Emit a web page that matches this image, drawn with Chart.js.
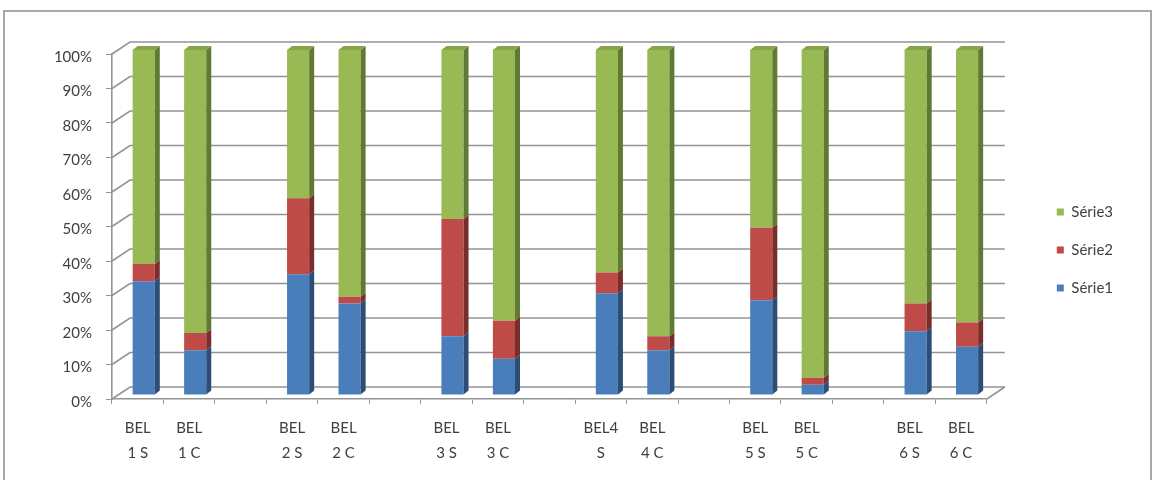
<!DOCTYPE html>
<html>
<head>
<meta charset="utf-8">
<script src="https://cdn.jsdelivr.net/npm/chart.js@4/dist/chart.umd.min.js"></script>
<style>
    body { margin: 0; background: #fff; }
    #wrap { position: relative; width: 1156px; height: 480px; overflow: hidden; }
    #frame {
        position: absolute; left: 3px; top: 10px; width: 1149px; height: 480px;
        border: 2px solid #a8a8a8; border-bottom: none; box-sizing: border-box;
    }
    canvas { position: absolute; left: 0; top: 0; }
</style>
</head>
<body>
<div id="wrap">
    <div id="frame"></div>
    <canvas id="myChart" width="1156" height="480"></canvas>
</div>
<script>
// empty slots keep the pairs apart
const labels = [
    ['BEL', '1 S'], ['BEL', '1 C'], '',
    ['BEL', '2 S'], ['BEL', '2 C'], '',
    ['BEL', '3 S'], ['BEL', '3 C'], '',
    ['BEL4', 'S'], ['BEL', '4 C'], '',
    ['BEL', '5 S'], ['BEL', '5 C'], '',
    ['BEL', '6 S'], ['BEL', '6 C'],
];

const serie1 = [33, 13, null, 35, 26.5, null, 17, 10.5, null, 29.5, 13, null, 27.5, 3, null, 18.5, 14];
const serie2 = [5, 5, null, 22, 2, null, 34, 11, null, 6, 4, null, 21, 2, null, 8, 7];
const serie3 = [62, 82, null, 43, 71.5, null, 49, 78.5, null, 64.5, 83, null, 51.5, 95, null, 73.5, 79];

const yTicks = [0, 10, 20, 30, 40, 50, 60, 70, 80, 90, 100];

const gridColor = '#949494';
const textColor = '#404040';
const fontFamily = 'Lato, "Open Sans", sans-serif';

// back wall offset and bar depth
const WALL_X = 18, WALL_Y = -12;
const BAR_X = 6, BAR_Y = -4;
const SIDE_X = 5, SIDE_Y = -4;

// grid lines on the back wall, left wall edges, right floor edge
const wallGrid = {
    id: 'wallGrid',
    beforeDatasetsDraw(chart) {
        const ctx = chart.ctx;
        const a = chart.chartArea;
        const y = chart.scales.y;
        ctx.save();
        ctx.strokeStyle = gridColor;
        ctx.lineWidth = 1.6;
        yTicks.forEach(v => {
            const py = y.getPixelForValue(v);
            ctx.beginPath();
            ctx.moveTo(a.left, py);
            ctx.lineTo(a.left + WALL_X, py + WALL_Y);
            ctx.lineTo(a.right + WALL_X, py + WALL_Y);
            ctx.stroke();
        });
        ctx.beginPath();
        ctx.moveTo(a.right, a.bottom);
        ctx.lineTo(a.right + WALL_X, a.bottom + WALL_Y);
        ctx.stroke();
        ctx.restore();
    }
};

// pseudo 3D columns: shift them into the floor and add side / top faces
const bars3d = {
    id: 'bars3d',
    beforeDatasetsDraw(chart) {
        chart.ctx.save();
        chart.ctx.translate(BAR_X, BAR_Y);
    },
    afterDatasetsDraw(chart) {
        const ctx = chart.ctx;
        const last = chart.data.datasets.length - 1;
        chart.data.datasets.forEach((ds, i) => {
            const meta = chart.getDatasetMeta(i);
            meta.data.forEach((bar, j) => {
                if (ds.data[j] == null) return;
                const p = bar.getProps(['x', 'y', 'base', 'width'], true);
                const l = p.x - p.width / 2;
                const r = p.x + p.width / 2;
                ctx.fillStyle = ds.sideColor;
                ctx.beginPath();
                ctx.moveTo(r, p.y);
                ctx.lineTo(r + SIDE_X, p.y + SIDE_Y);
                ctx.lineTo(r + SIDE_X, p.base + SIDE_Y);
                ctx.lineTo(r, p.base);
                ctx.closePath();
                ctx.fill();
                if (i === last) {
                    ctx.fillStyle = ds.topColor;
                    ctx.beginPath();
                    ctx.moveTo(l, p.y);
                    ctx.lineTo(l + SIDE_X, p.y + SIDE_Y);
                    ctx.lineTo(r + SIDE_X, p.y + SIDE_Y);
                    ctx.lineTo(r, p.y);
                    ctx.closePath();
                    ctx.fill();
                }
            });
        });
        ctx.restore();
    }
};

new Chart(document.getElementById('myChart'), {
    type: 'bar',
    data: {
        labels: labels,
        datasets: [
            {
                label: 'Série1',
                data: serie1,
                backgroundColor: '#4a7ebb',
                sideColor: '#2c4d75',
                topColor: '#6f97c9',
            },
            {
                label: 'Série2',
                data: serie2,
                backgroundColor: '#be4b48',
                sideColor: '#7a2e2c',
                topColor: '#cf7371',
            },
            {
                label: 'Série3',
                data: serie3,
                backgroundColor: '#98b954',
                sideColor: '#617a33',
                topColor: '#86a548',
            }
        ]
    },
    options: {
        responsive: false,
        animation: false,
        events: [],
        barPercentage: 0.43,
        categoryPercentage: 1,
        layout: { padding: { top: 54, right: 33, bottom: 0, left: 0 } },
        plugins: {
            tooltip: { enabled: false },
            legend: {
                position: 'right',
                fullSize: false,
                reverse: true,
                // empty title only pushes the entries down
                title: {
                    display: true,
                    text: '',
                    font: { size: 14, lineHeight: 1 },
                    padding: { top: 33, bottom: 0 }
                },
                labels: {
                    boxWidth: 7,
                    boxHeight: 7,
                    padding: 23,
                    color: textColor,
                    font: { family: fontFamily, size: 15 }
                }
            }
        },
        scales: {
            x: {
                stacked: true,
                grid: { drawOnChartArea: false, tickLength: 5, color: gridColor },
                border: { color: gridColor, width: 1.6 },
                ticks: {
                    color: textColor,
                    padding: 12,
                    maxRotation: 0,
                    autoSkip: false,
                    font: { family: fontFamily, size: 15, lineHeight: 1.67 }
                },
                afterFit: s => { s.height = 81; }
            },
            y: {
                stacked: true,
                min: 0,
                max: 100,
                grid: { drawOnChartArea: false, tickLength: 6, color: gridColor },
                border: { color: gridColor, width: 1.6 },
                ticks: {
                    stepSize: 10,
                    padding: 14,
                    labelOffset: 3,
                    color: textColor,
                    font: { family: fontFamily, size: 15 },
                    callback: v => v + '%'
                },
                afterFit: s => { s.width = 112; }
            },
            // room between the floor and the legend for the back wall
            gap: {
                type: 'linear',
                position: 'right',
                grid: { display: false },
                border: { display: false },
                ticks: { display: false },
                afterFit: s => { s.width = 47; }
            }
        }
    },
    plugins: [wallGrid, bars3d]
});
</script>
</body>
</html>
